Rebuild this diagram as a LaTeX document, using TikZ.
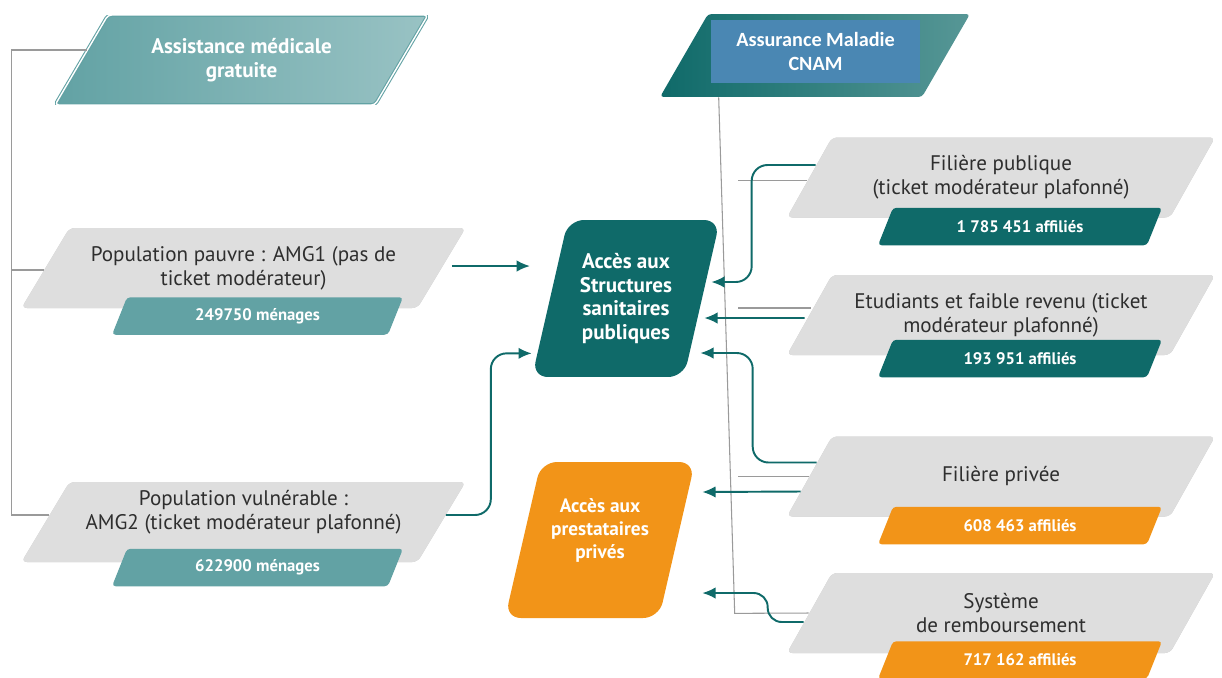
\documentclass[tikz,border=0pt]{standalone}
\usepackage{fontspec}
\setmainfont{PT Sans}
\newfontfamily\cnamfont{Carlito}
\usetikzlibrary{arrows.meta,math}

\definecolor{tealL}{HTML}{62A2A4}
\definecolor{tealD}{HTML}{0F6A69}
\definecolor{cnamblue}{HTML}{4A87B3}
\definecolor{orng}{HTML}{F29418}
\definecolor{boxgray}{HTML}{DEDEDE}
\definecolor{rimgray}{HTML}{C6C6C6}
\definecolor{txtdark}{HTML}{2E2E2E}
\definecolor{linegray}{HTML}{9A9A9A}

\tikzset{
  pgp/.style={insert path={([xshift=#1]path picture bounding box.north west)
    -- (path picture bounding box.north east)
    -- ([xshift=-#1]path picture bounding box.south east)
    -- (path picture bounding box.south west) -- cycle}},
  slab/.style 2 args={inner sep=0pt, align=center, path picture={
    \fill[#1, rounded corners=2pt, pgp=#2];}},
}

\begin{document}
\begin{tikzpicture}[x=0.02cm, y=-0.02cm,
  gbox/.style={minimum height=1.6cm, inner sep=0pt, align=center, text=txtdark,
    font=\fontsize{12}{13.5}\selectfont, path picture={
      \fill[rimgray, rounded corners=3pt, pgp=#1];
      \fill[boxgray, rounded corners=3pt, shift={(-1.6pt,1.6pt)}, pgp=#1];}},
  tag/.style={slab={#1}{0.3cm}, minimum height=0.75cm, text=white,
    font=\bfseries\fontsize{9.5}{11}\selectfont},
  hub/.style={inner sep=0pt, align=center, text=white,
    font=\bfseries\fontsize{12}{13.5}\selectfont},
  arr/.style={draw=tealD, line width=1.1pt, -{Latex[length=7.5pt,width=6.5pt]}},
  gline/.style={draw=linegray, line width=0.6pt}]
  \tikzmath{%
    \gx = 1001; \tx = 1020; % right column
    \lx = 243.5; \ltx = 257.5; % left column
  }

  \fill[white] (0,0) rectangle (1222,677);
  \useasboundingbox (0,0) rectangle (1222,677);

  % top boxes
  \node[minimum width=7.46cm, minimum height=1.8cm, inner sep=0pt, align=center,
    text=white, font=\bfseries\fontsize{12}{14}\selectfont, path picture={
      \shade[left color=tealL, right color=tealL!65!white, rounded corners=2pt, pgp=1.06cm];
      \draw[tealL, line width=0.6pt, double=white, double distance=0.8pt,
        rounded corners=2pt, shift={(1.4pt,1.4pt)}, pgp=1.06cm];}]
    (amg) at (241.5,60) {Assistance médicale\\gratuite};

  \node[minimum width=6.2cm, minimum height=1.66cm, inner sep=0pt, path picture={
      \shade[left color=tealD, right color=tealD!70!white, rounded corners=2pt, pgp=0.96cm];}]
    (cnam) at (815,55.5) {};
  \node[fill=cnamblue, minimum width=4.18cm, minimum height=1.26cm, inner sep=0pt,
    text=white, align=center, font=\cnamfont\bfseries\fontsize{11.5}{13.5}\selectfont]
    (cnamtxt) at (815.5,51.5) {Assurance Maladie\\CNAM};

  % left column
  \node[gbox=0.96cm, minimum width=8.88cm] (pvr) at (\lx,268)
    {Population pauvre : AMG1 (pas de\\ticket modérateur)};
  \node[tag=tealL, minimum width=5.82cm] (pvrn) at (\ltx,316) {249750 ménages};
  \node[gbox=0.96cm, minimum width=8.88cm] (vul) at (\lx,522)
    {Population vulnérable :\\AMG2 (ticket modérateur plafonné)\\~};
  \node[tag=tealL, minimum width=5.82cm] (vuln) at (\ltx,567.5) {622900 ménages};

  % access nodes
  \node[hub, minimum width=3.76cm, minimum height=3.14cm, path picture={
      \fill[tealD, rounded corners=9pt, pgp=0.72cm];}]
    (sante) at (626,298.5) {Accès aux\\Structures\\sanitaires\\publiques};
  \node[hub, minimum width=3.8cm, minimum height=3.12cm,
    font=\bfseries\fontsize{11}{13}\selectfont, path picture={
      \fill[orng, rounded corners=9pt, pgp=0.72cm];}]
    (prive) at (600,540) {Accès aux\\prestataires\\privés\\~};

  % right column
  \node[gbox=0.9cm, minimum width=8.56cm] (fpub) at (\gx,177.5)
    {Filière publique\\(ticket modérateur plafonné)};
  \node[tag=tealD, minimum width=5.68cm] (fpubn) at (\tx,226.5) {1 785 451 affiliés};
  \node[gbox=0.9cm, minimum width=8.56cm] (etud) at (\gx,315)
    {Etudiants et faible revenu (ticket\\modérateur plafonné)};
  \node[tag=tealD, minimum width=5.68cm] (etudn) at (\tx,358.5) {193 951 affiliés};
  \node[gbox=0.9cm, minimum width=8.56cm] (fprv) at (\gx,476.5) {Filière privée};
  \node[tag=orng, minimum width=5.68cm] (fprvn) at (\tx,525.5) {608 463 affiliés};
  \node[gbox=0.9cm, minimum width=8.56cm] (remb) at (\gx,613) {Système\\de remboursement};
  \node[tag=orng, minimum width=5.68cm] (rembn) at (\tx,660) {717 162 affiliés};

  % grey tree on the left
  \draw[gline] ([shift={(32,-10)}]amg.west) -- ++(-75,0) coordinate (lt)
    |- ([shift={(23,2)}]pvr.west);
  \draw[gline] (lt) |- ([shift={(28,-7)}]vul.west);

  % grey line under CNAM
  \coordinate (vt) at ([shift={(59,0)}]cnam.south west);
  \draw[gline] (vt) -- ++(16,516) -- ([shift={(22,0)}]remb.west);
  \draw[gline] ([shift={(20,3)}]fpub.west) -- ++(-69,0);
  \draw[gline] ([shift={(24,-7)}]etud.west) -- ++(-73,0);
  \draw[gline] ([shift={(22,0)}]fprv.west) -- ++(-71,0);

  % arrows
  \draw[arr, shorten >=1pt] ([shift={(-14,-2)}]pvr.east) coordinate (pa)
    -- (pa -| sante.west);
  \draw[arr, rounded corners=9pt] ([shift={(-20,-7)}]vul.east) -- ++(45,0)
    |- ([shift={(0,-24)}]sante.south west);
  \draw[arr, rounded corners=9pt] ([shift={(29,-12.5)}]fpub.west) -- ++(-64,0)
    |- ([shift={(-9,-16.5)}]sante.east);
  \draw[arr] ([shift={(18,3)}]etud.west) -- ([shift={(-16,19.5)}]sante.east);
  \draw[arr, rounded corners=9pt] ([shift={(30,-14)}]fprv.west) -- ++(-64,0)
    |- ([shift={(-20,54.5)}]sante.east);
  \draw[arr] ([shift={(14,15)}]fprv.west) -- ([shift={(7,-48)}]prive.east);
  \draw[arr, rounded corners=8pt] ([shift={(17,9)}]remb.west) -- ++(-36,0)
    |- ([shift={(7,53)}]prive.east);
\end{tikzpicture}
\end{document}
